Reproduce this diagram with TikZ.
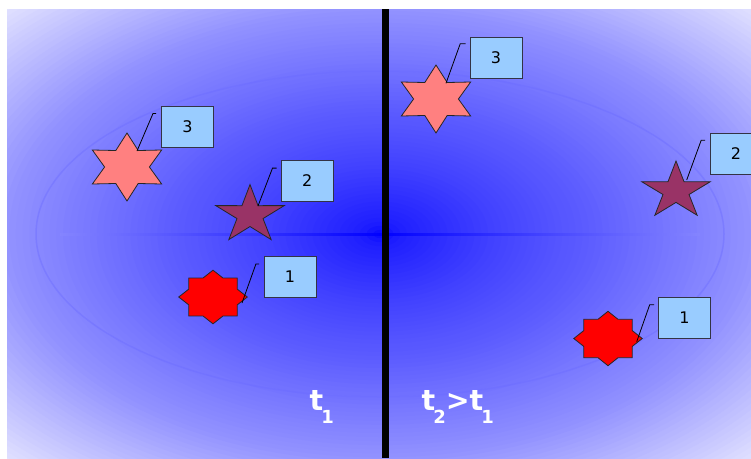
\documentclass[tikz,border=0pt]{standalone}
\usepackage{fontspec}
\setmainfont{DejaVu Sans}
\usetikzlibrary{calc}
\definecolor{boxblue}{HTML}{99CCFF}
\definecolor{boxline}{HTML}{333344}
\definecolor{salmon}{HTML}{FF8080}
\definecolor{maroon}{HTML}{993366}
\definecolor{ringblue}{rgb}{0.42,0.42,1}
\definecolor{bandedge}{rgb}{0.52,0.52,1}
\newcommand\mkstar[6]{% #1 center, #2 points, #3 rx, #4 ry, #5 inner ratio, #6 fill
  \pgfmathtruncatemacro\mylast{2*#2-1}%
  \filldraw[starline, fill=#6, shift={(#1)}]
    (270:{#3} and {#4})
    \foreach \i [evaluate=\i as \f using {mod(\i,2)==0 ? 1 : #5}] in {1,...,\mylast}
      { -- ({270+180*\i/#2}:{\f*#3} and {\f*#4}) } -- cycle;}
\newcommand\subnum[1]{\kern-2pt\raisebox{-13pt}{\fontsize{18}{18}\selectfont #1}}
\begin{document}
\begin{tikzpicture}[x=1pt,y=-1pt,
  starline/.style={draw=black!85, line width=0.8pt, line join=miter},
  numbox/.style={draw=boxline, line width=1pt, fill=boxblue, minimum width=52pt,
    minimum height=41pt, inner sep=0pt, font=\fontsize{16}{16}\selectfont},
  callout/.style={draw=black, line width=0.8pt},
  lbl/.style={text=white, font=\fontsize{28.5}{28.5}\selectfont\bfseries, inner sep=0pt, anchor=base west},
  divider/.style={draw=black, line width=7pt}]
\clip (0,0) rectangle (751,458);
\fill[white] (0,0) rectangle (751,458);
% background: concentric elliptical gradient
\begin{scope}
\clip (7,9) rectangle (751,458);
\coordinate (bgc) at (380,234);
\foreach \k in {80,79,...,1}{
  \pgfmathsetmacro\f{1.45*\k/80}
  \pgfmathsetmacro\w{\f<0.06 ? 0.02+1.67*\f : (\f<0.3 ? 0.12+(\f-0.06)*0.54 : (\f<0.6 ? 0.25+(\f-0.3)*0.43 : (\f<1 ? 0.38+(\f-0.6)*0.475 : min(0.9,0.57+(\f-1)*0.73))))}
  \fill[color={rgb,1:red,\w;green,\w;blue,1}] (bgc) ellipse [x radius={372*\f}, y radius={224*\f}];
}
\shade[left color=bandedge, right color=bandedge, middle color=blue] (60,233) rectangle (700,235);
\draw[ringblue, opacity=0.4, line width=1.5pt] (bgc) ellipse [x radius=344, y radius=163];
\end{scope}
% divider
\coordinate (dtop) at (385,9);
\coordinate (dbot) at (385,458);
\draw[divider] (dtop) -- (dbot);
% star centres
\coordinate (sL3) at (127,167);
\coordinate (sL2) at (250,215);
\coordinate (sL1) at (213,297);
\coordinate (sR3) at (436,99);
\coordinate (sR2) at (676,191);
\coordinate (sR1) at (608,338.5);
% stars
\mkstar{sL3}{6}{40}{34}{0.56}{salmon}
\mkstar{sL2}{5}{36}{30.4}{0.38}{maroon}
\mkstar{sL1}{8}{34.3}{26.8}{0.765}{red}
\mkstar{sR3}{6}{40}{34}{0.56}{salmon}
\mkstar{sR2}{5}{36}{30}{0.38}{maroon}
\mkstar{sR1}{8}{34.2}{27.2}{0.765}{red}
% boxes
\node[numbox] (bL3) at (187.5,126.5) {3};
\node[numbox] (bL2) at (307.3,180.7) {2};
\node[numbox] (bL1) at (290,276.7) {1};
\node[numbox] (bR3) at (496,57.8) {3};
\node[numbox] (bR2) at (736,153.8) {2};
\node[numbox] (bR1) at (684.5,318) {1};
% callouts
\draw[callout] ($(sL3)+(10,-16)$) -- ($(bL3.north west)+(-8,8)$) -- ($(bL3.north west)+(-5,8)$);
\draw[callout] ($(sL2)+(8,-9)$) -- ($(bL2.north west)+(-8.3,8.4)$) -- ($(bL2.north west)+(-4.3,8.4)$);
\draw[callout] ($(sL1)+(29,6)$) -- ($(bL1.north west)+(-7.6,8.3)$) -- ($(bL1.north west)+(-4.3,8.3)$);
\draw[callout] ($(sR3)+(10,-15.7)$) -- ($(bR3.north west)+(-9.3,7)$) -- ($(bR3.north west)+(-4,7)$);
\draw[callout] ($(sR2)+(10.7,-11)$) -- ($(bR2.north west)+(-8.3,7.4)$) -- ($(bR2.north west)+(-4.3,7.4)$);
\draw[callout] ($(sR1)+(28.7,3.2)$) -- ($(bR1.north west)+(-8.3,7.7)$) -- ($(bR1.north west)+(-4,7.7)$);
% labels
\node[lbl] (t1) at (309.5,410) {t\subnum{1}};
\node[lbl] (t2) at (421.5,410) {t\subnum{2}>t\subnum{1}};
\end{tikzpicture}
\end{document}
